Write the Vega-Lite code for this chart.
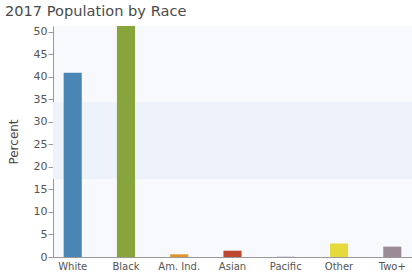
{
  "$schema": "https://vega.github.io/schema/vega-lite/v6.json",
  "width": 359,
  "height": 231,
  "autosize": {"type": "none"},
  "padding": {"left": 53, "top": 26, "right": 0, "bottom": 19},
  "background": "#ffffff",
  "title": {
    "text": "2017 Population by Race",
    "anchor": "start",
    "frame": "group",
    "dx": -48,
    "offset": 7,
    "font": "DejaVu Sans",
    "fontSize": 14.6,
    "fontWeight": "normal",
    "color": "#4a4a4a"
  },
  "config": {
    "view": {"fill": "#f8f9fd", "stroke": null},
    "axis": {"labelFont": "DejaVu Sans", "titleFont": "DejaVu Sans"}
  },
  "layer": [
    {
      "data": {"values": [{"lo": 17.3, "hi": 34.4}]},
      "mark": {"type": "rect", "color": "#eef2fa"},
      "encoding": {
        "y": {
          "field": "lo",
          "type": "quantitative",
          "scale": {"domain": [0, 51.3], "nice": false},
          "axis": {
            "title": "Percent",
            "titleFontSize": 12,
            "titleFontWeight": "normal",
            "titleColor": "#444444",
            "titlePadding": 13,
            "values": [0, 5, 10, 15, 20, 25, 30, 35, 40, 45, 50],
            "labelOverlap": false,
            "grid": false,
            "labelFontSize": 11,
            "labelColor": "#555555",
            "labelPadding": 1,
            "tickSize": 5,
            "tickColor": "#999999",
            "domainColor": "#999999"
          }
        },
        "y2": {"field": "hi"}
      }
    },
    {
      "data": {
        "values": [
          {"race": "White", "percent": 40.9},
          {"race": "Black", "percent": 51.3},
          {"race": "Am. Ind.", "percent": 0.6},
          {"race": "Asian", "percent": 1.4},
          {"race": "Pacific", "percent": 0.05},
          {"race": "Other", "percent": 3.0},
          {"race": "Two+", "percent": 2.3}
        ]
      },
      "mark": {"type": "bar"},
      "encoding": {
        "x": {
          "field": "race",
          "type": "nominal",
          "sort": null,
          "scale": {"paddingInner": 0.66, "paddingOuter": 0.2},
          "axis": {
            "title": null,
            "labelAngle": 0,
            "labelFontSize": 10,
            "labelColor": "#555555",
            "labelPadding": 4,
            "ticks": false,
            "domainColor": "#999999"
          }
        },
        "y": {
          "field": "percent",
          "type": "quantitative",
          "scale": {"domain": [0, 51.3], "nice": false},
          "axis": {
            "title": "Percent",
            "titleFontSize": 12,
            "titleFontWeight": "normal",
            "titleColor": "#444444",
            "titlePadding": 13,
            "values": [0, 5, 10, 15, 20, 25, 30, 35, 40, 45, 50],
            "labelOverlap": false,
            "grid": false,
            "labelFontSize": 11,
            "labelColor": "#555555",
            "labelPadding": 1,
            "tickSize": 5,
            "tickColor": "#999999",
            "domainColor": "#999999"
          }
        },
        "color": {
          "field": "race",
          "type": "nominal",
          "scale": {
            "domain": ["White", "Black", "Am. Ind.", "Asian", "Pacific", "Other", "Two+"],
            "range": ["#4a86b4", "#88a43c", "#e0962f", "#c0472f", "#8a6ea8", "#e6d93b", "#9a8b94"]
          },
          "legend": null
        }
      }
    }
  ]
}
